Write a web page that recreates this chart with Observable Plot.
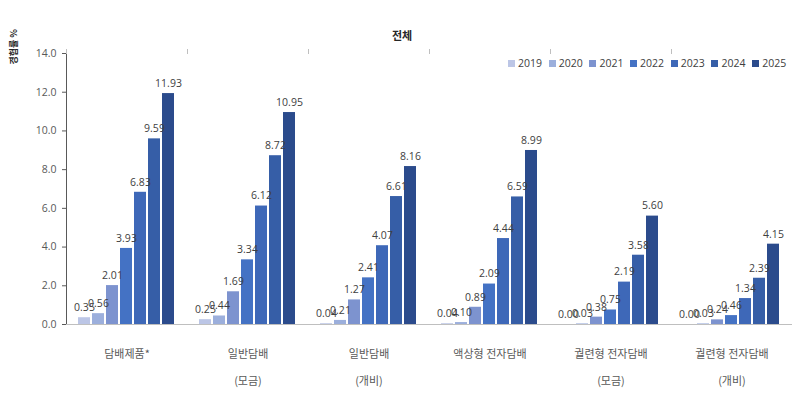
<!DOCTYPE html>
<html>
<head>
<meta charset="utf-8">
<script src="https://cdn.jsdelivr.net/npm/d3@7"></script>
<script src="https://cdn.jsdelivr.net/npm/@observablehq/plot@0.6"></script>
<style>
  body { margin: 0; background: #fff; }
  #wrap { position: relative; width: 795px; height: 418px; font-family: "Open Sans", "Noto Sans CJK KR", sans-serif; }
  #title { position: absolute; left: 0; width: 804px; top: 27px; text-align: center; font-size: 11px; font-weight: bold; color: #262626; font-family: "Noto Sans CJK KR", sans-serif; }
  #ylab { position: absolute; left: 9px; top: 29px; writing-mode: vertical-rl; text-orientation: sideways; transform: rotate(180deg); font-size: 9px; font-weight: bold; color: #262626; font-family: "Noto Sans CJK KR", sans-serif; white-space: nowrap; line-height: 1; }
  #legend { position: absolute; left: 508px; top: 56px; display: flex; font-size: 10.5px; color: #404040; }
  #legend .item { display: flex; align-items: center; width: 40.7px; }
  #legend .sw { width: 7px; height: 7px; margin-right: 3px; }
  #chart { position: absolute; left: 0; top: 0; }
</style>
</head>
<body>
<div id="wrap">
  <div id="chart"></div>
  <div id="title">전체</div>
  <div id="ylab">경험률 %</div>
  <div id="legend"></div>
</div>
<script>
const categories = ["담배제품*", "일반담배\n(모금)", "일반담배\n(개비)", "액상형 전자담배", "궐련형 전자담배\n(모금)", "궐련형 전자담배\n(개비)"];
const years = ["2019", "2020", "2021", "2022", "2023", "2024", "2025"];
const colors = ["#bcc6e6", "#9cafdc", "#7d93cf", "#4472c4", "#3e68b8", "#365ea7", "#2b4b8c"];
const yTicks = [0, 2, 4, 6, 8, 10, 12, 14];

const tobaccoAll   = [0.35, 0.56, 2.01, 3.93, 6.83, 9.59, 11.93];
const cigPuff      = [0.25, 0.44, 1.69, 3.34, 6.12, 8.72, 10.95];
const cigStick     = [0.04, 0.21, 1.27, 2.41, 4.07, 6.61, 8.16];
const liquidEcig   = [0.04, 0.10, 0.89, 2.09, 4.44, 6.59, 8.99];
const heatedPuff   = [0.00, 0.03, 0.38, 0.75, 2.19, 3.58, 5.60];
const heatedStick  = [0.00, 0.03, 0.24, 0.46, 1.34, 2.39, 4.15];

const seriesByCat = [tobaccoAll, cigPuff, cigStick, liquidEcig, heatedPuff, heatedStick];
const data = [];
categories.forEach((c, i) => years.forEach((y, j) => data.push({cat: c, year: y, value: seriesByCat[i][j]})));

const W = 795, H = 418, mL = 66, mR = 3, mT = 53, mB = 94;
const band = (W - mL - mR) / categories.length;

const chart = Plot.plot({
  width: W, height: H,
  marginLeft: mL, marginRight: mR, marginTop: mT, marginBottom: mB,
  style: {fontFamily: "'Open Sans', 'Noto Sans CJK KR', sans-serif", fontSize: "10.5px", color: "#595959", background: "transparent"},
  fx: {domain: categories, padding: 0, axis: null},
  x: {domain: years, paddingInner: 0.13, paddingOuter: 0.6, axis: null},
  y: {domain: [0, 14], ticks: yTicks, tickFormat: d3.format(".1f"), tickSize: 4, tickPadding: 6, line: true, label: null},
  color: {domain: years, range: colors},
  marks: [
    Plot.ruleY([0], {stroke: "#bfbfbf"}),
    Plot.barY(data, {fx: "cat", x: "year", y: "value", fill: "year"}),
    Plot.text(data, {fx: "cat", x: "year", y: "value", text: d => d3.format(".2f")(d.value), dy: -10, fill: "#404040", fontSize: 10.5}),
    Plot.text(categories, {fx: d => d, text: d => d, frameAnchor: "bottom", lineAnchor: "top", dy: 14, lineHeight: 2.45, fill: "#595959", fontSize: 11, fontFamily: "'Noto Sans CJK KR', sans-serif"}),
    Plot.axisFx({tickFormat: () => "", tickSize: 5, dx: -band / 2, stroke: "#bfbfbf", label: null})
  ]
});
document.getElementById("chart").appendChild(chart);

const lg = document.getElementById("legend");
years.forEach((y, i) => {
  const it = document.createElement("div");
  it.className = "item";
  it.innerHTML = `<span class="sw" style="background:${colors[i]}"></span><span>${y}</span>`;
  lg.appendChild(it);
});
</script>
</body>
</html>
